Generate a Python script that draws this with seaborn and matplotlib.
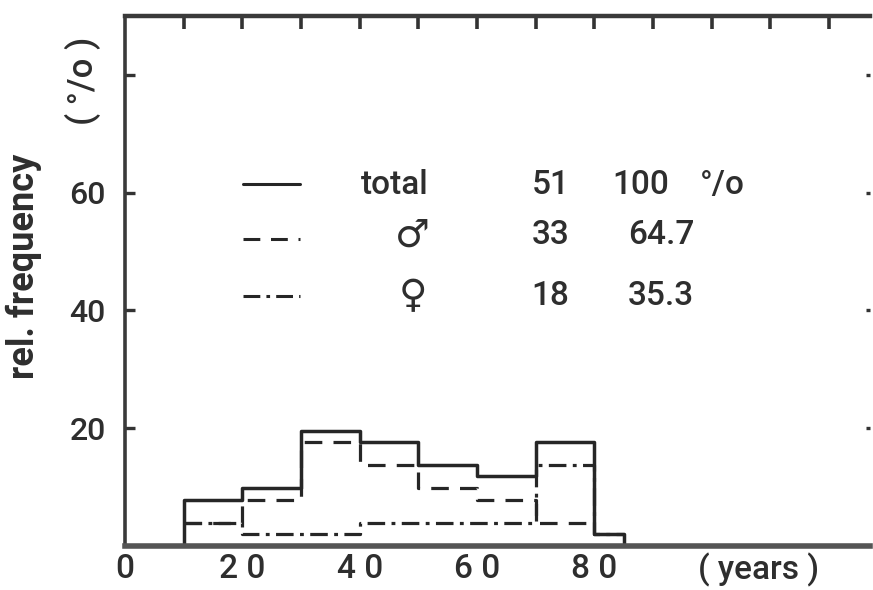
import numpy as np
import matplotlib
matplotlib.use("Agg")
import matplotlib.pyplot as plt
import seaborn as sns

# ---------------- data ----------------
bin_edges = [10, 20, 30, 40, 50, 60, 70, 80, 85]
total_pct = [7.8, 9.8, 19.6, 17.6, 13.7, 11.8, 17.6, 2.0]
male_pct = [3.9, 7.8, 17.6, 13.7, 9.8, 7.8, 3.9]          # bins 10-80
female_pct = [3.9, 2.0, 2.0, 3.9, 3.9, 3.9, 13.7, 2.0]   # bins 10-85

x_tick_pos = [0, 20, 40, 60, 80, 108]
x_tick_labels = ["0", "2 0", "4 0", "6 0", "8 0", "( years )"]
x_minor_top = [10, 20, 30, 40, 50, 60, 70, 80, 90, 100, 110, 120]
y_tick_pos = [20, 40, 60, 80]
y_tick_labels = ["20", "40", "60", ""]

legend_labels = ["total", "\u2642", "\u2640"]
legend_counts = ["51", "33", "18"]
legend_pcts = ["100", "64.7", "35.3"]

# ---------------- style ----------------
sns.set_theme(style="white")
plt.rcParams["font.family"] = ["Roboto", "DejaVu Sans"]
plt.rcParams["font.weight"] = "medium"
INK = "#262626"
TXT = "#2e2e2e"

fig = plt.figure(figsize=(8.73, 5.90), dpi=100)
ax = fig.add_axes([0.1432, 0.0746, 0.8534, 0.8983])

solid = "-"
dashed = (0, (5.5, 3.5))
dashdot = (0, (5.5, 2.0, 1.2, 2.0))


def steps(edges, vals, close=False):
    e = np.asarray(edges, dtype=float)
    v = np.asarray(vals, dtype=float)
    xs = np.repeat(e, 2)
    if close:
        ys = np.concatenate([[0.0], np.repeat(v, 2), [0.0]])
    else:
        xs = xs[1:-1]
        ys = np.repeat(v, 2)
    return xs, ys


xt, yt = steps(bin_edges, total_pct, close=True)
xm, ym = steps(bin_edges[:len(male_pct) + 1], male_pct)
xf, yf = steps(bin_edges, female_pct)

sns.lineplot(x=xf, y=yf, sort=False, estimator=None, color=INK,
             linewidth=2.3, linestyle=dashdot, ax=ax)
sns.lineplot(x=xm, y=ym, sort=False, estimator=None, color=INK,
             linewidth=2.3, linestyle=dashed, ax=ax)
sns.lineplot(x=xt, y=yt, sort=False, estimator=None, color=INK,
             linewidth=2.5, linestyle=solid, ax=ax)

ax.set_xlim(0, 127)
ax.set_ylim(0, 90)

# spines
for side in ["left", "top", "bottom", "right"]:
    ax.spines[side].set_color("#3a3a3a")
ax.spines["left"].set_linewidth(2.6)
ax.spines["top"].set_linewidth(3.2)
ax.spines["bottom"].set_linewidth(4.0)
ax.spines["bottom"].set_color("#555555")
ax.spines["right"].set_visible(False)

# ticks
ax.set_xticks(x_tick_pos)
ax.set_xticklabels(x_tick_labels, fontsize=24, color=TXT, fontweight="medium")
ax.tick_params(axis="x", bottom=True, length=0, pad=5)
ax.set_yticks(y_tick_pos)
ax.set_yticklabels(y_tick_labels, fontsize=23, color=TXT, fontweight="medium")
ax.tick_params(axis="y", left=True, direction="in", length=7,
               width=2.4, color="#333333", pad=14)
ax.tick_params(axis="y", which="major", right=True)
for t in ax.yaxis.get_ticklines()[1::2]:
    t.set_markersize(3)

sec = ax.secondary_xaxis("top")
sec.set_xticks(x_minor_top)
sec.set_xticklabels([])
sec.tick_params(direction="in", length=9, width=2.6, color="#333333")
sec.spines["top"].set_visible(False)

ax.set_xlabel("")
ax.set_ylabel("")

# axis titles
ax.text(-0.1355, 0.528, "rel. frequency", transform=ax.transAxes,
        rotation=90, ha="center", va="center", fontsize=26,
        fontweight="bold", color=TXT)
ax.text(-0.056, 0.878, "( \u00b0/o )", transform=ax.transAxes,
        rotation=90, ha="center", va="center", fontsize=25, color=TXT,
        fontweight="medium")

# legend table
row_y = [0.683, 0.579, 0.472]
styles = [solid, dashed, dashdot]
text_y = [0.682, 0.586, 0.472]
for i in range(3):
    ax.plot([0.158, 0.235], [row_y[i], row_y[i]], transform=ax.transAxes,
            color=INK, linewidth=2.2, linestyle=styles[i])
    fs = 24 if i == 0 else 28
    ax.text(0.362 if i == 0 else 0.386, text_y[i], legend_labels[i],
            transform=ax.transAxes, ha="center", va="center",
            fontsize=fs, color=TXT, fontweight="medium",
            family=["Roboto", "DejaVu Sans"] if i == 0 else ["DejaVu Sans"])
    ax.text(0.546, text_y[i], legend_counts[i], transform=ax.transAxes,
            ha="left", va="center", fontsize=24, color=TXT,
            fontweight="medium")
    ax.text(0.654 if i == 0 else 0.675, text_y[i], legend_pcts[i],
            transform=ax.transAxes, ha="left", va="center", fontsize=24,
            color=TXT, fontweight="medium")
ax.text(0.772, text_y[0], "\u00b0/o", transform=ax.transAxes,
        ha="left", va="center", fontsize=24, color=TXT, fontweight="medium")

fig.savefig("out.png", dpi=100)
